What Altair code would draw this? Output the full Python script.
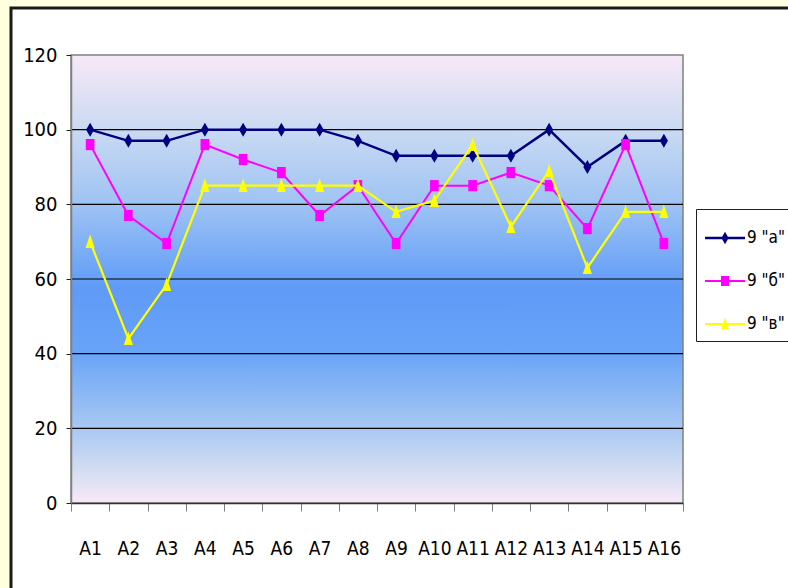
import altair as alt
import pandas as pd

categories = ["A1", "A2", "A3", "A4", "A5", "A6", "A7", "A8",
              "A9", "A10", "A11", "A12", "A13", "A14", "A15", "A16"]
series_names = ['9 "а"', '9 "б"', '9 "в"']
values_a = [100, 97, 97, 100, 100, 100, 100, 97, 93, 93, 93, 93, 100, 90, 97, 97]
values_b = [96, 77, 69.5, 96, 92, 88.5, 77, 85, 69.5, 85, 85, 88.5, 85, 73.5, 96, 69.5]
values_c = [70, 44, 58.5, 85, 85, 85, 85, 85, 78, 81, 96, 74, 89, 63, 78, 78]
grid_values = [20, 40, 60, 80, 100]
y_ticks = [0, 20, 40, 60, 80, 100, 120]

series_colors = ["#000080", "#FF00FF", "#FFFF00"]
line_widths = [2.5, 2, 2.2]
marker_paths = ["M0,-1L0.58,0L0,1L-0.58,0Z",
                "M-0.62,-0.8L0.62,-0.8L0.62,0.8L-0.62,0.8Z",
                "M0,-1.05L0.65,0.9L-0.65,0.9Z"]
legend_paths = ["M-1,-0.065L1,-0.065L1,0.065L-1,0.065Z M0,-0.31L0.18,0L0,0.31L-0.18,0Z",
                "M-1,-0.055L1,-0.055L1,0.055L-1,0.055Z M-0.2,-0.25L0.2,-0.25L0.2,0.25L-0.2,0.25Z",
                "M-1,-0.055L1,-0.055L1,0.055L-1,0.055Z M0,-0.32L0.19,0.28L-0.19,0.28Z"]

rows = []
for name, vals in zip(series_names, [values_a, values_b, values_c]):
    for c, v in zip(categories, vals):
        rows.append({"cat": c, "value": v, "series": name})
df = pd.DataFrame(rows)

FONT = "Liberation Sans Narrow, DejaVu Sans Condensed, Arial Narrow, sans-serif"
W, H = 612, 448

x_scale = alt.Scale(type="band", domain=categories, paddingInner=0, paddingOuter=0)
y_scale = alt.Scale(domain=[0, 120], nice=False, zero=True)
color_scale = alt.Scale(domain=series_names, range=series_colors)

frame = alt.Chart(alt.Data(values=[{}])).mark_rect(
    fill="white", stroke="#1a1a1a", strokeWidth=3
).encode(x=alt.value(-60), x2=alt.value(740), y=alt.value(-47), y2=alt.value(560))

gradient = alt.Gradient(
    gradient="linear", x1=0, x2=0, y1=0, y2=1,
    stops=[
        alt.GradientStop(color="#F7E9F7", offset=0),
        alt.GradientStop(color="#C6D8F2", offset=0.18),
        alt.GradientStop(color="#9CC2F4", offset=0.34),
        alt.GradientStop(color="#5F9BF7", offset=0.52),
        alt.GradientStop(color="#67A3F8", offset=0.66),
        alt.GradientStop(color="#A3C5F2", offset=0.82),
        alt.GradientStop(color="#D4DEF2", offset=0.93),
        alt.GradientStop(color="#F7E9F7", offset=1),
    ],
)
plot_bg = alt.Chart(alt.Data(values=[{}])).mark_rect(
    fill=gradient, stroke="#808080", strokeWidth=1.5
).encode(x=alt.value(0), x2=alt.value(W), y=alt.value(0), y2=alt.value(H))

grid_df = pd.DataFrame({"value": grid_values})
grid = alt.Chart(grid_df).mark_rule(color="black", strokeWidth=1.2).encode(
    y=alt.Y("value:Q", scale=y_scale)
)

x_enc = alt.X("cat:N", scale=x_scale, bandPosition=0.5, sort=categories,
              axis=alt.Axis(title=None, labelAngle=0, tickBand="extent", tickSize=8,
                            tickColor="#808080", domainColor="#303030", domainWidth=1.5,
                            labelFont=FONT, labelFontSize=19, labelColor="black",
                            labelPadding=28, grid=False, zindex=1))
y_enc = alt.Y("value:Q", scale=y_scale,
              axis=alt.Axis(title=None, values=y_ticks, tickSize=5, tickColor="#202020",
                            domainColor="#808080", domainWidth=1.5, labelFont=FONT,
                            labelFontSize=20, labelColor="black", labelPadding=9,
                            grid=False, zindex=1))

layers = [frame, plot_bg, grid]
for i, name in enumerate(series_names):
    sub = alt.Chart(df).transform_filter(alt.datum.series == name)
    line = sub.mark_line(color=series_colors[i], strokeWidth=line_widths[i]).encode(
        x=x_enc, y=y_enc
    )
    pts = sub.mark_point(filled=True, opacity=1, size=196, strokeWidth=0,
                         color=series_colors[i], shape=marker_paths[i]).encode(
        x=x_enc, y=y_enc
    )
    layers += [line, pts]

legend_kw = dict(title=None, orient="none", legendX=625, legendY=154,
                 strokeColor="#202020", fillColor="white",
                 padding=9, symbolSize=1600, symbolStrokeWidth=0,
                 symbolOpacity=1, rowPadding=15, labelOffset=2,
                 labelFont=FONT, labelFontSize=17, labelColor="black")
legend_layer = alt.Chart(df).transform_filter("false").mark_point(
    filled=True, opacity=1, strokeWidth=0
).encode(
    x=x_enc, y=y_enc,
    color=alt.Color("series:N", scale=color_scale, legend=alt.Legend(**legend_kw)),
    shape=alt.Shape("series:N", scale=alt.Scale(domain=series_names, range=legend_paths),
                    legend=alt.Legend(**legend_kw)),
)
layers.append(legend_layer)

chart = alt.layer(*layers).properties(
    width=W, height=H,
    padding={"left": 71, "top": 55, "right": 105, "bottom": 85},
    autosize=alt.AutoSizeParams(type="none"),
).configure(background="#FFFFE0").configure_view(stroke=None)

chart.save("out.html", embed_options={"renderer": "svg", "actions": False})
